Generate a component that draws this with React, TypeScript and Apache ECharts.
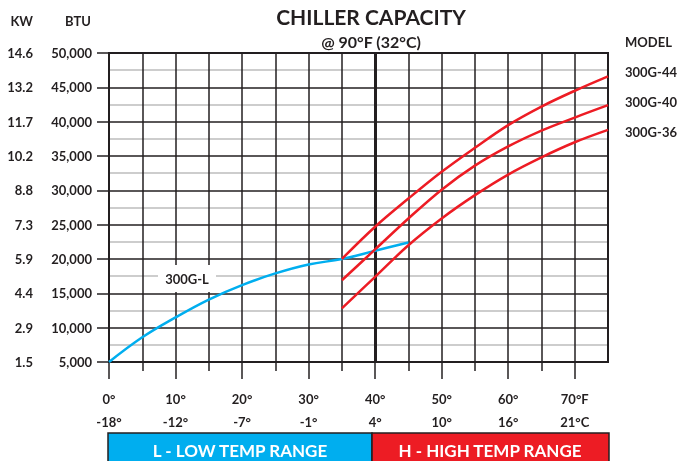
import React, { useEffect, useRef } from "react";
import * as echarts from "echarts";

const DARK = "#231f20";
const GRAY = "#bdbdbd";
const BLUE = "#00aeef";
const RED = "#ed1c24";
const FONT = "Lato";

const lowTemps = [0, 5, 10, 15, 20, 25, 30, 35, 40, 45];
const highTemps = [35, 40, 45, 50, 55, 60, 65, 70, 75];

const series300GL = [5000, 8600, 11500, 14100, 16200, 17900, 19200, 20000, 21200, 22400];
const series300G44 = [20000, 24700, 28800, 32700, 36200, 39500, 42200, 44500, 46600];
const series300G40 = [16900, 21400, 25900, 30100, 33600, 36400, 38700, 40600, 42400];
const series300G36 = [12800, 17400, 22000, 25900, 29300, 32300, 34800, 37000, 38800];

const btuTicks = [5000, 10000, 15000, 20000, 25000, 30000, 35000, 40000, 45000, 50000];
const btuMinor = [7500, 12500, 17500, 22500, 27500, 32500, 37500, 42500, 47500];
const kwLabels = ["1.5", "2.9", "4.4", "5.9", "7.3", "8.8", "10.2", "11.7", "13.2", "14.6"];

const majorF = [0, 10, 20, 30, 40, 50, 60, 70];
const minorF = [5, 15, 25, 35, 45, 55, 65];
const fLabels = ["0°", "10°", "20°", "30°", "40°", "50°", "60°", "70°F"];
const cLabels = ["-18°", "-12°", "-7°", "-1°", "4°", "10°", "16°", "21°C"];

const modelNames = ["300G-44", "300G-40", "300G-36"];

export default function App() {
  const ref = useRef<HTMLDivElement>(null);
  useEffect(() => {
    if (!ref.current) return;
    const chart = echarts.init(ref.current, undefined, { renderer: "svg" });
    const pair = (xs: number[], ys: number[]) => xs.map((x, i) => [x, ys[i]]);
    const txt = (x: number, y: number, text: string, size: number, align: string = "center", fill = DARK) => ({
      type: "text",
      x,
      y,
      z: 20,
      style: {
        text,
        fill,
        font: `bold ${size}px ${FONT}`,
        textAlign: align,
        textVerticalAlign: "middle",
      },
    });
    const labelFont = { color: DARK, fontFamily: FONT, fontWeight: "bold", fontSize: 13 };
    const xBase = { type: "value", min: 0, max: 75, interval: 5, position: "bottom" };
    const yBase = { type: "value", min: 5000, max: 50000, interval: 5000, position: "left" };
    const redLine = (name: string, vals: number[]) => ({
      type: "line",
      name,
      data: pair(highTemps, vals),
      smooth: 0.35,
      symbol: "none",
      lineStyle: { color: RED, width: 2.5 },
      z: 4,
    });
    chart.setOption({
      animation: false,
      grid: {
        left: 109,
        right: 72,
        top: 53,
        bottom: 99,
        show: true,
        borderColor: DARK,
        borderWidth: 2,
        backgroundColor: "transparent",
      },
      xAxis: [
        {
          ...xBase,
          axisLine: { show: true, lineStyle: { color: DARK, width: 2 } },
          axisTick: { show: false },
          splitLine: { show: true, lineStyle: { color: DARK, width: 1.5 } },
          axisLabel: { show: false },
        },
        {
          ...xBase,
          axisLine: { show: false },
          axisTick: { show: true, length: 17, customValues: majorF, lineStyle: { color: DARK, width: 1.5 } },
          splitLine: { show: false },
          axisLabel: {
            ...labelFont,
            customValues: majorF,
            margin: 25,
            lineHeight: 23,
            formatter: (v: number) => {
              const i = majorF.indexOf(v);
              return i >= 0 ? `${fLabels[i]}\n${cLabels[i]}` : "";
            },
          },
        },
        {
          ...xBase,
          axisLine: { show: false },
          axisTick: { show: true, length: 9, customValues: minorF, lineStyle: { color: DARK, width: 1.5 } },
          splitLine: { show: false },
          axisLabel: { show: false },
        },
      ],
      yAxis: [
        {
          ...yBase,
          axisLine: { show: true, lineStyle: { color: DARK, width: 2 } },
          axisTick: { show: true, length: 12, lineStyle: { color: DARK, width: 1.5 } },
          splitLine: { show: true, lineStyle: { color: DARK, width: 1.5 } },
          axisLabel: {
            ...labelFont,
            margin: 17,
            formatter: (v: number) => v.toLocaleString("en-US"),
          },
        },
        {
          ...yBase,
          axisLine: { show: false },
          axisTick: { show: false },
          splitLine: { show: false },
          axisLabel: {
            ...labelFont,
            margin: 76,
            formatter: (v: number) => {
              const i = btuTicks.indexOf(v);
              return i >= 0 ? kwLabels[i] : "";
            },
          },
        },
      ],
      series: [
        {
          type: "line",
          name: "minor-grid",
          data: [],
          z: -1,
          silent: true,
          markLine: {
            silent: true,
            symbol: "none",
            z: -1,
            label: { show: false },
            lineStyle: { color: GRAY, width: 1.5, type: "solid" },
            data: btuMinor.map((v) => ({ yAxis: v })),
          },
        },
        {
          type: "line",
          name: "300G-L",
          data: pair(lowTemps, series300GL),
          smooth: 0.4,
          symbol: "none",
          lineStyle: { color: BLUE, width: 2.5 },
          z: 3,
          markLine: {
            silent: true,
            symbol: "none",
            z: 3,
            label: { show: false },
            lineStyle: { color: DARK, width: 3, type: "solid" },
            data: [{ xAxis: 40 }],
          },
        },
        redLine(modelNames[0], series300G44),
        redLine(modelNames[1], series300G40),
        redLine(modelNames[2], series300G36),
      ],
      graphic: [
        txt(371, 16, "CHILLER CAPACITY", 21),
        txt(371, 41, "@ 90°F (32°C)", 16),
        txt(33, 21, "KW", 13, "right"),
        txt(91, 21, "BTU", 13, "right"),
        txt(625, 42, "MODEL", 13, "left"),
        txt(625, 72, modelNames[0], 13, "left"),
        txt(625, 102, modelNames[1], 13, "left"),
        txt(625, 132, modelNames[2], 13, "left"),
        {
          type: "rect",
          z: 19,
          shape: { x: 158, y: 265, width: 58, height: 27 },
          style: { fill: "#ffffff" },
        },
        txt(187, 279, "300G-L", 13),
        {
          type: "rect",
          z: 18,
          shape: { x: 108, y: 433, width: 264, height: 40 },
          style: { fill: BLUE, stroke: DARK, lineWidth: 1.5 },
        },
        {
          type: "rect",
          z: 18,
          shape: { x: 372, y: 433, width: 237, height: 40 },
          style: { fill: RED, stroke: DARK, lineWidth: 1.5 },
        },
        txt(240, 450, "L - LOW TEMP RANGE", 17, "center", "#ffffff"),
        txt(490, 450, "H - HIGH TEMP RANGE", 17, "center", "#ffffff"),
      ],
    });
    return () => chart.dispose();
  }, []);
  return <div ref={ref} style={{ position: "fixed", left: 0, top: 0, width: 680, height: 461 }} />;
}
